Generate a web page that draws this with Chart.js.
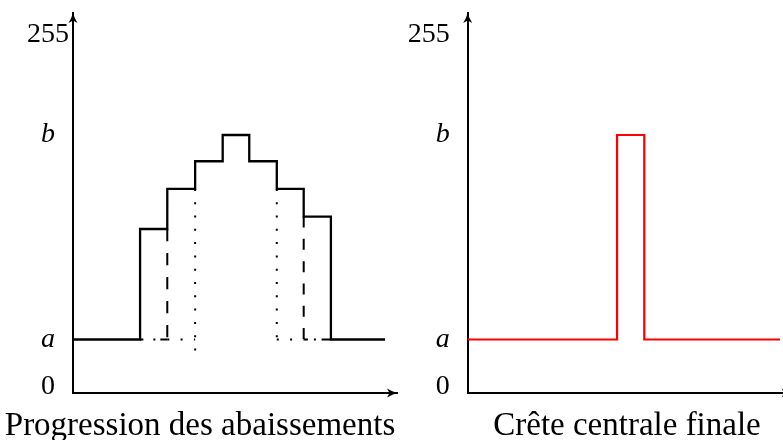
<!DOCTYPE html>
<html>
<head>
<meta charset="utf-8">
<script src="https://cdn.jsdelivr.net/npm/chart.js@4.4.1/dist/chart.umd.min.js"></script>
<style>
  html, body { margin: 0; padding: 0; background: #fff; }
  body { width: 783px; height: 440px; overflow: hidden; position: relative; }
  #left { position: absolute; left: 0; top: 0; }
  #right { position: absolute; left: 400px; top: 0; }
</style>
</head>
<body>
<canvas id="left" width="400" height="440"></canvas>
<canvas id="right" width="454" height="440"></canvas>
<script>
// grey levels (0..255 scale)
const levelA = 34;
const levelB = 182;
const yTickValues = [0, levelA, levelB, 255];
const yTickLabels = ['0', 'a', 'b', '255'];
const yMin = -4.7, yMax = 270.3;
const xMin = 0, xMax = 100;

// left panel: stepped profile
const stepX = [0, 20.7, 29.1, 37.7, 46.2, 54.4, 62.9, 71.2, 79.6, 96.3];
const stepY = [levelA, 114, 143, 163, levelB, 163, 143, 123, levelA, levelA];

// left panel: traces of the previous levels
const dashedLeftX = [29.1, 29.1];
const dashedLeftY = [114, levelA];
const dashedRightX = [71.2, 71.2];
const dashedRightY = [123, levelA];
const dottedLeftX = [37.7, 37.7];
const dottedLeftY = [143, 25];
const dottedRightX = [62.9, 62.9];
const dottedRightY = [143, levelA];
const dotBaseLeftX = [29.1, 37.7];
const dotBaseRightX = [62.9, 71.2];
const dashDotLeftX = [20.7, 29.1];
const dashDotRightX = [79.6, 71.2];

// right panel: final central crest
const crestX = [0, 46.1, 54.5, 96.4];
const crestY = [levelA, levelB, levelA, levelA];

const serif = '"Liberation Serif", "DejaVu Serif", serif';

function pts(xs, ys) {
    return xs.map((x, i) => ({ x: x, y: ys[i] }));
}

function segment(xs, ys, dash, width) {
    return {
        data: pts(xs, ys),
        borderColor: '#000',
        borderWidth: width || 2,
        borderDash: dash,
        pointRadius: 0,
        fill: false,
        clip: false
    };
}

// arrow heads on the two axes + caption under each panel
const axesDecor = {
    id: 'axesDecor',
    afterDraw(chart, args, opts) {
        const ctx = chart.ctx;
        const area = chart.chartArea;
        ctx.save();
        ctx.fillStyle = '#000';
        const head = (x, y, angle) => {
            ctx.save();
            ctx.translate(x, y);
            ctx.rotate(angle);
            ctx.beginPath();
            ctx.moveTo(0, 0);
            ctx.quadraticCurveTo(-4, -1, -10, -4.5);
            ctx.lineTo(-7.5, 0);
            ctx.lineTo(-10, 4.5);
            ctx.quadraticCurveTo(-4, 1, 0, 0);
            ctx.fill();
            ctx.restore();
        };
        head(area.left, area.top, -Math.PI / 2);
        head(area.right, area.bottom, 0);

        ctx.font = '33px ' + serif;
        ctx.textAlign = 'center';
        ctx.textBaseline = 'alphabetic';
        ctx.fillText(opts.text, chart.width / 2, 435);
        ctx.restore();
    }
};

function noPad(s) {
    s.paddingTop = 0;
    s.paddingBottom = 0;
    s.paddingLeft = 0;
    s.paddingRight = 0;
}

function makeOptions(caption, axisWidth, crossAlign, tickPad, padRight) {
    return {
        responsive: false,
        animation: false,
        layout: { padding: { left: 0, top: 13, right: padRight, bottom: 0 } },
        plugins: {
            legend: { display: false },
            tooltip: { enabled: false },
            axesDecor: { text: caption }
        },
        scales: {
            x: {
                type: 'linear',
                min: xMin,
                max: xMax,
                grid: { display: false, drawTicks: false },
                border: { display: true, color: '#000', width: 2 },
                ticks: { display: false },
                afterFit: s => { s.height = 47; noPad(s); }
            },
            y: {
                type: 'linear',
                min: yMin,
                max: yMax,
                grid: { display: false, drawTicks: false },
                border: { display: true, color: '#000', width: 2 },
                afterBuildTicks: s => { s.ticks = yTickValues.map(v => ({ value: v })); },
                afterFit: s => { s.width = axisWidth; noPad(s); },
                ticks: {
                    autoSkip: false,
                    color: '#000',
                    padding: tickPad,
                    crossAlign: crossAlign,
                    callback: (v, i) => yTickLabels[i],
                    font: c => ({
                        family: serif,
                        size: 28,
                        style: (yTickLabels[c.index] === 'a' || yTickLabels[c.index] === 'b') ? 'italic' : 'normal'
                    })
                }
            }
        }
    };
}

// left chart
const leftMain = segment(stepX, stepY, [], 2.3);
leftMain.stepped = true;
new Chart(document.getElementById('left'), {
    type: 'line',
    data: {
        datasets: [
            leftMain,
            segment(dashedLeftX, dashedLeftY, [12.3, 11.7]),
            segment(dashedRightX, dashedRightY, [11, 11.3]),
            segment(dottedLeftX, dottedLeftY, [2, 11.3]),
            segment(dottedRightX, dottedRightY, [2, 11.3]),
            segment(dotBaseLeftX, [levelA, levelA], [2, 11.3]),
            segment(dotBaseRightX, [levelA, levelA], [2, 11.3]),
            segment(dashDotLeftX, [levelA, levelA], [3.3, 10, 2, 5, 8, 100]),
            segment(dashDotRightX, [levelA, levelA], [9.3, 5.7, 2, 6, 5, 100])
        ]
    },
    options: makeOptions('Progression des abaissements', 73, 'center', 4, 3),
    plugins: [axesDecor]
});

// right chart
const crest = segment(crestX, crestY, [], 2.2);
crest.borderColor = '#ff0000';
crest.stepped = true;
new Chart(document.getElementById('right'), {
    type: 'line',
    data: { datasets: [crest] },
    options: makeOptions('Crête centrale finale', 67.7, 'near', 18, 62.3),
    plugins: [axesDecor]
});
</script>
</body>
</html>
